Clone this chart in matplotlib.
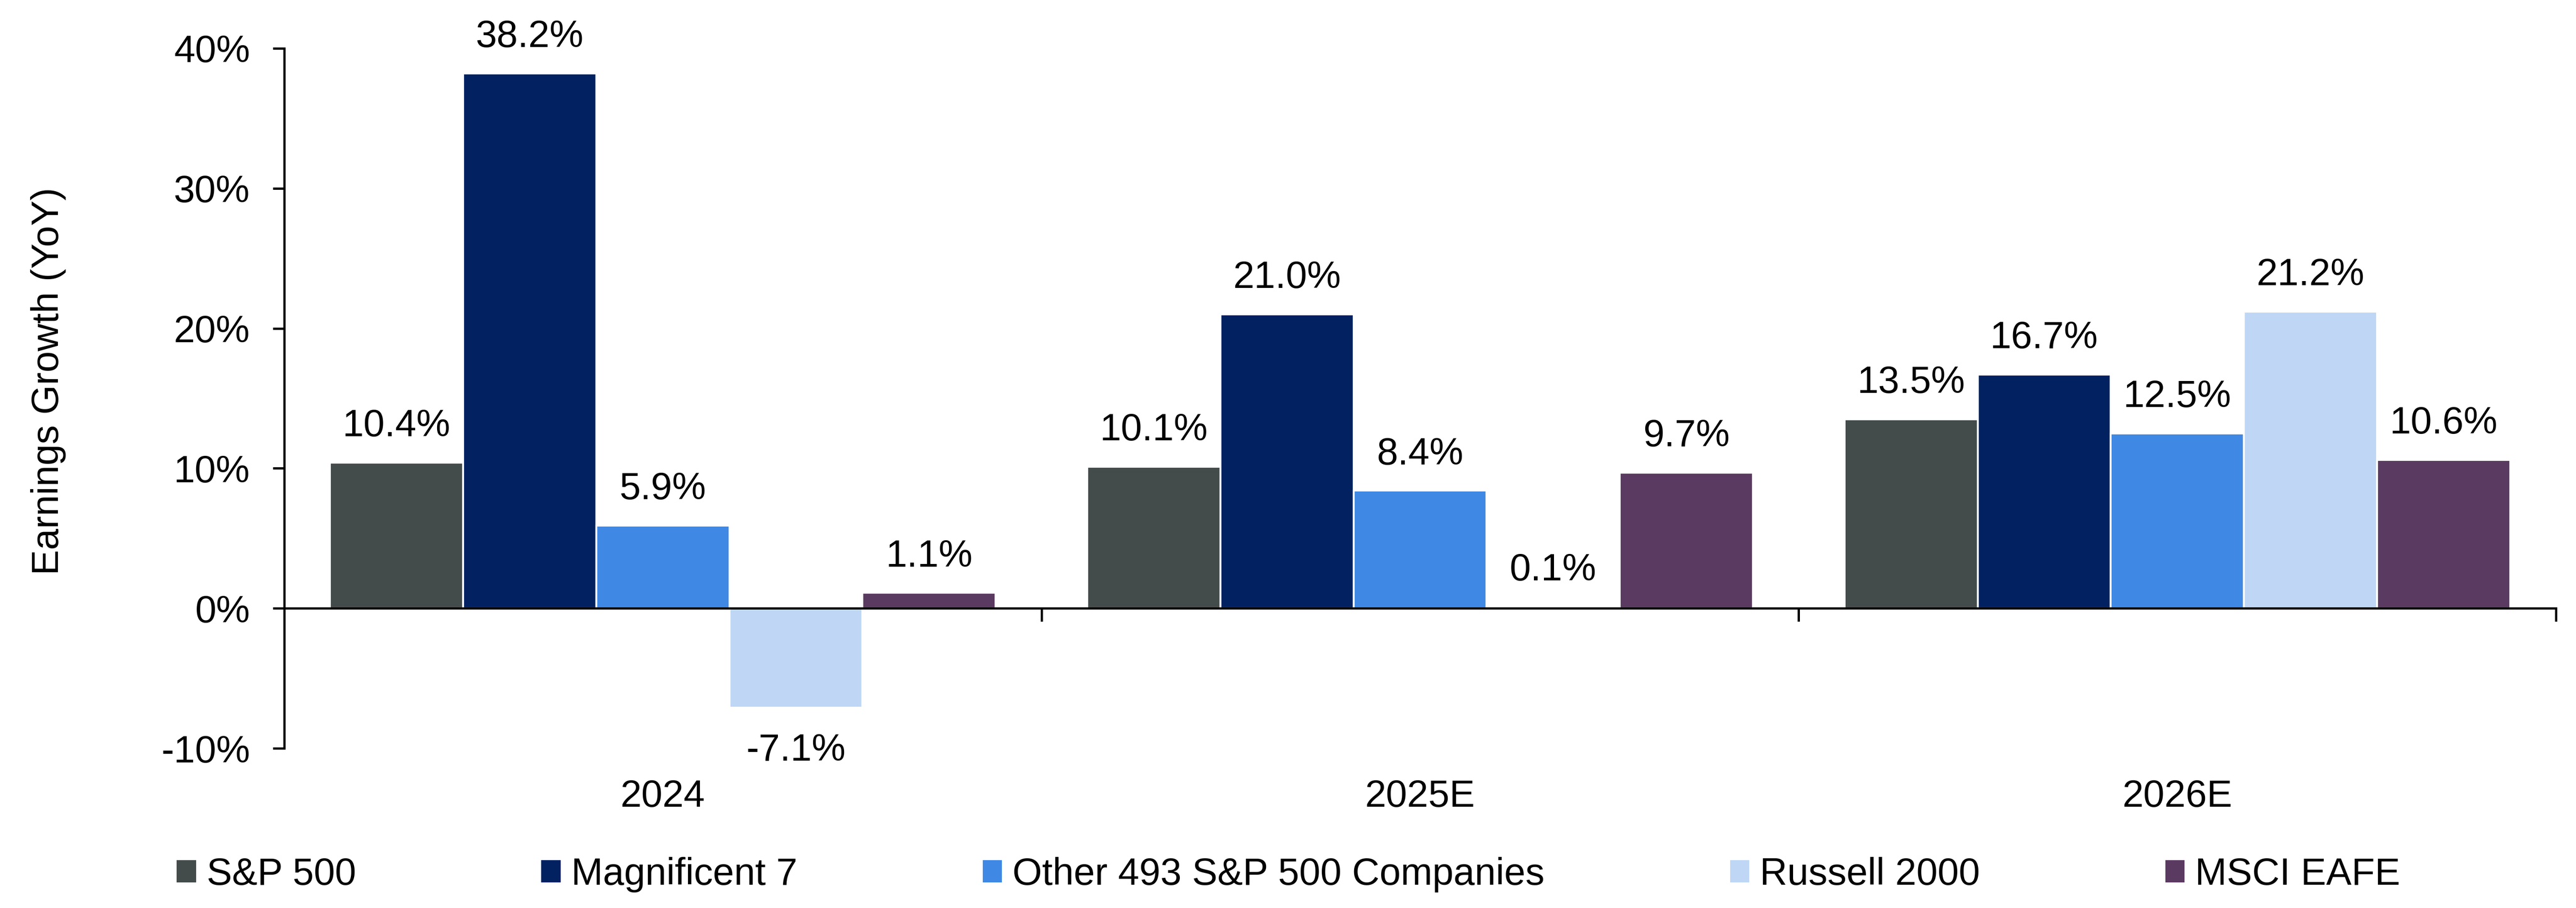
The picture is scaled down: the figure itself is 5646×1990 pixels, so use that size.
import matplotlib
matplotlib.use("Agg")
import matplotlib.pyplot as plt
import matplotlib.transforms as mtransforms
import numpy as np

plt.rcParams['font.family'] = ['Liberation Sans', 'DejaVu Sans']

categories = ['2024', '2025E', '2026E']
series_names = ['S&P 500', 'Magnificent 7', 'Other 493 S&P 500 Companies',
                'Russell 2000', 'MSCI EAFE']
sp500 = [10.4, 10.1, 13.5]
mag7 = [38.2, 21.0, 16.7]
other493 = [5.9, 8.4, 12.5]
russell2000 = [-7.1, 0.1, 21.2]
msci_eafe = [1.1, 9.7, 10.6]
colors = ['#434B4B', '#022160', '#3F88E3', '#BFD7F5', '#5A3A60']
yticks = [-10, 0, 10, 20, 30, 40]

series = [sp500, mag7, other493, russell2000, msci_eafe]

FS = 20
W, H = 5646, 1990
fig = plt.figure(figsize=(W / 300, H / 300), dpi=300)
ax = fig.add_axes([623 / W, 1 - 1640 / H, (5602 - 623) / W, (1640 - 106) / H])

x = np.arange(len(categories))
bw = 0.1758
n = len(series)
for i, (vals, name, col) in enumerate(zip(series, series_names, colors)):
    pos = x + (i - (n - 1) / 2) * bw
    ax.bar(pos, vals, width=bw, color=col, edgecolor='white',
           linewidth=1.0, label=name, zorder=2)
    for p, v in zip(pos, vals):
        off = 13.9 if v >= 0 else -27.6
        ax.annotate(f"{v:.1f}%", (p, v), xytext=(0, off),
                    textcoords='offset points', ha='center',
                    va='baseline', fontsize=FS, color='black')

ax.set_xlim(-0.5, len(categories) - 0.5)
ax.set_ylim(-10, 40)
ax.set_yticks(yticks)
ax.set_yticklabels([f"{t}%" for t in yticks], fontsize=FS)
ax.set_xticks(np.arange(len(categories) + 1) - 0.5)
ax.set_xticklabels([])

for s in ['top', 'right']:
    ax.spines[s].set_visible(False)
ax.spines['bottom'].set_position(('data', 0))
for s in ['left', 'bottom']:
    ax.spines[s].set_linewidth(1.2)
    ax.spines[s].set_zorder(3)
ax.tick_params(axis='y', direction='out', length=6, width=1.2, pad=12)
ax.tick_params(axis='x', direction='out', length=7, width=1.2)

trans = mtransforms.blended_transform_factory(ax.transData, fig.transFigure)
for xi, c in zip(x, categories):
    ax.text(xi, 1 - 1768 / H, c, transform=trans, ha='center', va='baseline',
            fontsize=FS)

fig.text(106 / W, 1 - 835 / H, 'Earnings Growth (YoY)', rotation=90,
         ha='center', va='center', fontsize=FS)

fig.legend(loc='center', bbox_to_anchor=(0.5, 1 - 1917 / H), ncol=5,
           frameon=False, fontsize=FS, handlelength=0.56,
           handleheight=0.6, handletextpad=0.25, columnspacing=4.85,
           borderaxespad=0, borderpad=0)

fig.savefig('out.png', dpi=300)
